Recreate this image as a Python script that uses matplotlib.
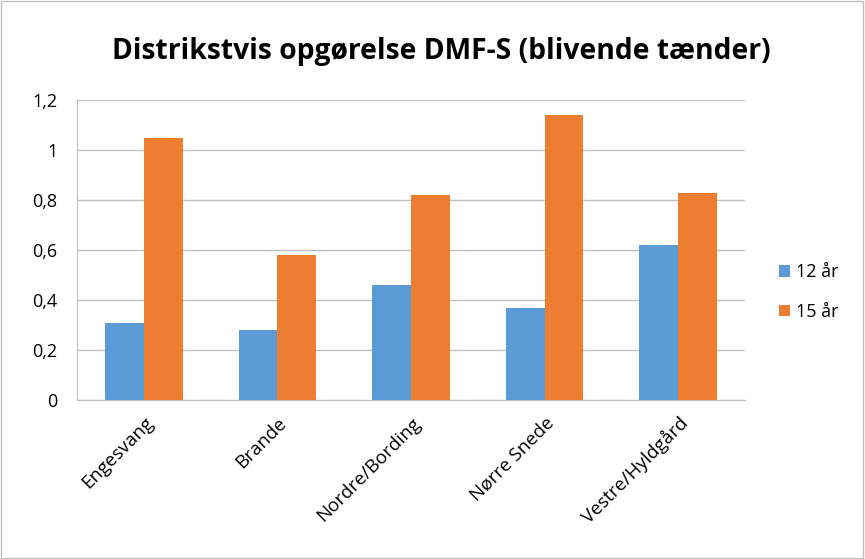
import matplotlib
matplotlib.use("Agg")
import matplotlib.pyplot as plt
from matplotlib.patches import Rectangle
import numpy as np

categories = ["Engesvang", "Brande", "Nordre/Bording", "Nørre Snede", "Vestre/Hyldgård"]
vals_12 = [0.31, 0.28, 0.46, 0.37, 0.62]
vals_15 = [1.05, 0.58, 0.82, 1.14, 0.83]
series_names = ["12 år", "15 år"]
yticks = [0, 0.2, 0.4, 0.6, 0.8, 1.0, 1.2]
ytick_labels = ["0", "0,2", "0,4", "0,6", "0,8", "1", "1,2"]

plt.rcParams['font.family'] = ['Open Sans', 'DejaVu Sans']

fig = plt.figure(figsize=(8.65, 5.59), dpi=100)
fig.patches.append(Rectangle((0.001, 0.001), 0.997, 0.997, transform=fig.transFigure,
                             fill=False, edgecolor='#bfbfbf', linewidth=1))
ax = fig.add_axes([77/865, 1-400/559, (745-77)/865, 300/559])

x = np.arange(len(categories))
w = 0.29
ax.bar(x - w/2, vals_12, w, color='#5B9BD5', label=series_names[0], zorder=3)
ax.bar(x + w/2, vals_15, w, color='#ED7D31', label=series_names[1], zorder=3)

ax.set_xlim(-0.5, len(categories) - 0.5)
ax.set_ylim(0, 1.2)
ax.set_yticks(yticks)
ax.set_yticklabels(ytick_labels, fontsize=13)
ax.set_xticks(x)
ax.set_xticklabels(categories, rotation=45, ha='right', rotation_mode='anchor', fontsize=13.5)
ax.tick_params(axis='y', length=0, pad=14)
ax.tick_params(axis='x', length=0, pad=10)
ax.grid(axis='y', color='#bfbfbf', linewidth=1, zorder=0)
for s in ['top', 'right']:
    ax.spines[s].set_visible(False)
ax.spines['left'].set_color('#bfbfbf')
ax.spines['bottom'].set_color('#bfbfbf')

fig.text(441/865, 1-52/559, "Distrikstvis opgørelse DMF-S (blivende tænder)",
         ha='center', va='center', fontsize=20.3, fontweight='bold')

ax.legend(loc='center left', bbox_to_anchor=(1.027, 0.36), frameon=False,
          fontsize=13, handlelength=0.6, handleheight=0.6, labelspacing=1.2, handletextpad=0.3)

fig.savefig("out.png", dpi=100)
